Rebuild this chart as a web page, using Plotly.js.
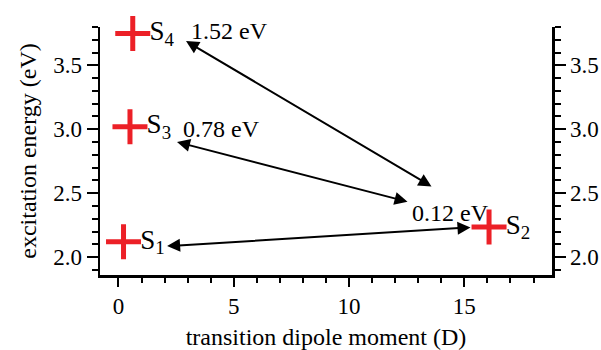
<!DOCTYPE html>
<html>
<head>
<meta charset="utf-8">
<script src="https://cdn.plot.ly/plotly-3.0.1.min.js"></script>
<style>html,body{margin:0;padding:0;background:#fff}#chart{width:601px;height:350px}</style>
</head>
<body>
<div id="chart"></div>
<script>
// States
var stateNames = ['S<sub>1</sub>', 'S<sub>2</sub>', 'S<sub>3</sub>', 'S<sub>4</sub>'];
var dipoleMoment = [0.22, 16.07, 0.5, 0.62];     // D
var excitationEnergy = [2.12, 2.235, 3.02, 3.75]; // eV

// Double-headed arrows (start point, end point in data units)
var arrowX0 = [2.11, 2.54, 2.93];
var arrowY0 = [2.086, 2.90, 3.69];
var arrowX1 = [15.33, 12.60, 13.64];
var arrowY1 = [2.233, 2.43, 2.546];

// Energy gap labels
var gapLabels = ['1.52 eV', '0.78 eV', '0.12 eV'];
var gapX = [3.05, 2.7, 12.65];
var gapY = [3.765, 3.0, 2.345];

var serif = 'Liberation Serif, Times New Roman, serif';
var red = '#ec2027';

var traces = [{
  x: dipoleMoment,
  y: excitationEnergy,
  mode: 'markers+text',
  type: 'scatter',
  text: stateNames,
  textposition: 'middle right',
  textfont: {family: serif, size: 27, color: '#000'},
  marker: {symbol: 'cross-thin-open', size: 25, line: {width: 5, color: red}, color: red},
  cliponaxis: false,
  hoverinfo: 'none'
}, {
  x: [dipoleMoment[0]], y: [excitationEnergy[0]], yaxis: 'y2', mode: 'markers',
  marker: {opacity: 0}, hoverinfo: 'none'
}];

var annotations = [];
for (var i = 0; i < arrowX0.length; i++) {
  annotations.push({
    x: arrowX0[i], y: arrowY0[i], ax: arrowX1[i], ay: arrowY1[i],
    xref: 'x', yref: 'y', axref: 'x', ayref: 'y',
    showarrow: true, arrowhead: 2, arrowside: 'end+start', arrowsize: 1.3, arrowwidth: 2,
    arrowcolor: '#000', text: ''
  });
}
for (var j = 0; j < gapLabels.length; j++) {
  annotations.push({
    x: gapX[j], y: gapY[j], xref: 'x', yref: 'y', text: gapLabels[j],
    showarrow: false, xanchor: 'left', yanchor: 'middle',
    font: {family: serif, size: 24, color: '#000'}
  });
}

var yRange = [1.86, 3.80];
var axisCommon = {
  showgrid: false, zeroline: false, showline: true, linecolor: '#000', linewidth: 2.5,
  ticks: 'outside', tickwidth: 2, tickcolor: '#000',
  tickfont: {family: serif, size: 23, color: '#000'}
};

var layout = {
  width: 601, height: 350,
  margin: {l: 100, r: 49, t: 27, b: 75},
  paper_bgcolor: '#fff', plot_bgcolor: '#fff',
  showlegend: false,
  font: {family: serif, color: '#000'},
  xaxis: Object.assign({}, axisCommon, {
    range: [-0.8, 18.8], dtick: 5, tick0: 0, ticklen: 9,
    minor: {dtick: 1, tick0: 0, ticklen: 5, tickwidth: 2, tickcolor: '#000', ticks: 'outside'},
    title: {text: 'transition dipole moment (D)', font: {family: serif, size: 24}, standoff: 12}
  }),
  yaxis: Object.assign({}, axisCommon, {
    range: yRange, dtick: 0.5, tick0: 0, tickformat: '.1f', ticklen: 11,
    minor: {dtick: 0.1, tick0: 0, ticklen: 6, tickwidth: 2, tickcolor: '#000', ticks: 'outside'},
    title: {text: 'excitation energy (eV)', font: {family: serif, size: 24}, standoff: 10}
  }),
  yaxis2: Object.assign({}, axisCommon, {
    range: yRange, dtick: 0.5, tick0: 0, tickformat: '.1f', ticklen: 11,
    minor: {dtick: 0.1, tick0: 0, ticklen: 6, tickwidth: 2, tickcolor: '#000', ticks: 'outside'},
    overlaying: 'y', side: 'right', anchor: 'x'
  }),
  annotations: annotations
};

Plotly.newPlot('chart', traces, layout, {staticPlot: true, displayModeBar: false});
</script>
</body>
</html>
